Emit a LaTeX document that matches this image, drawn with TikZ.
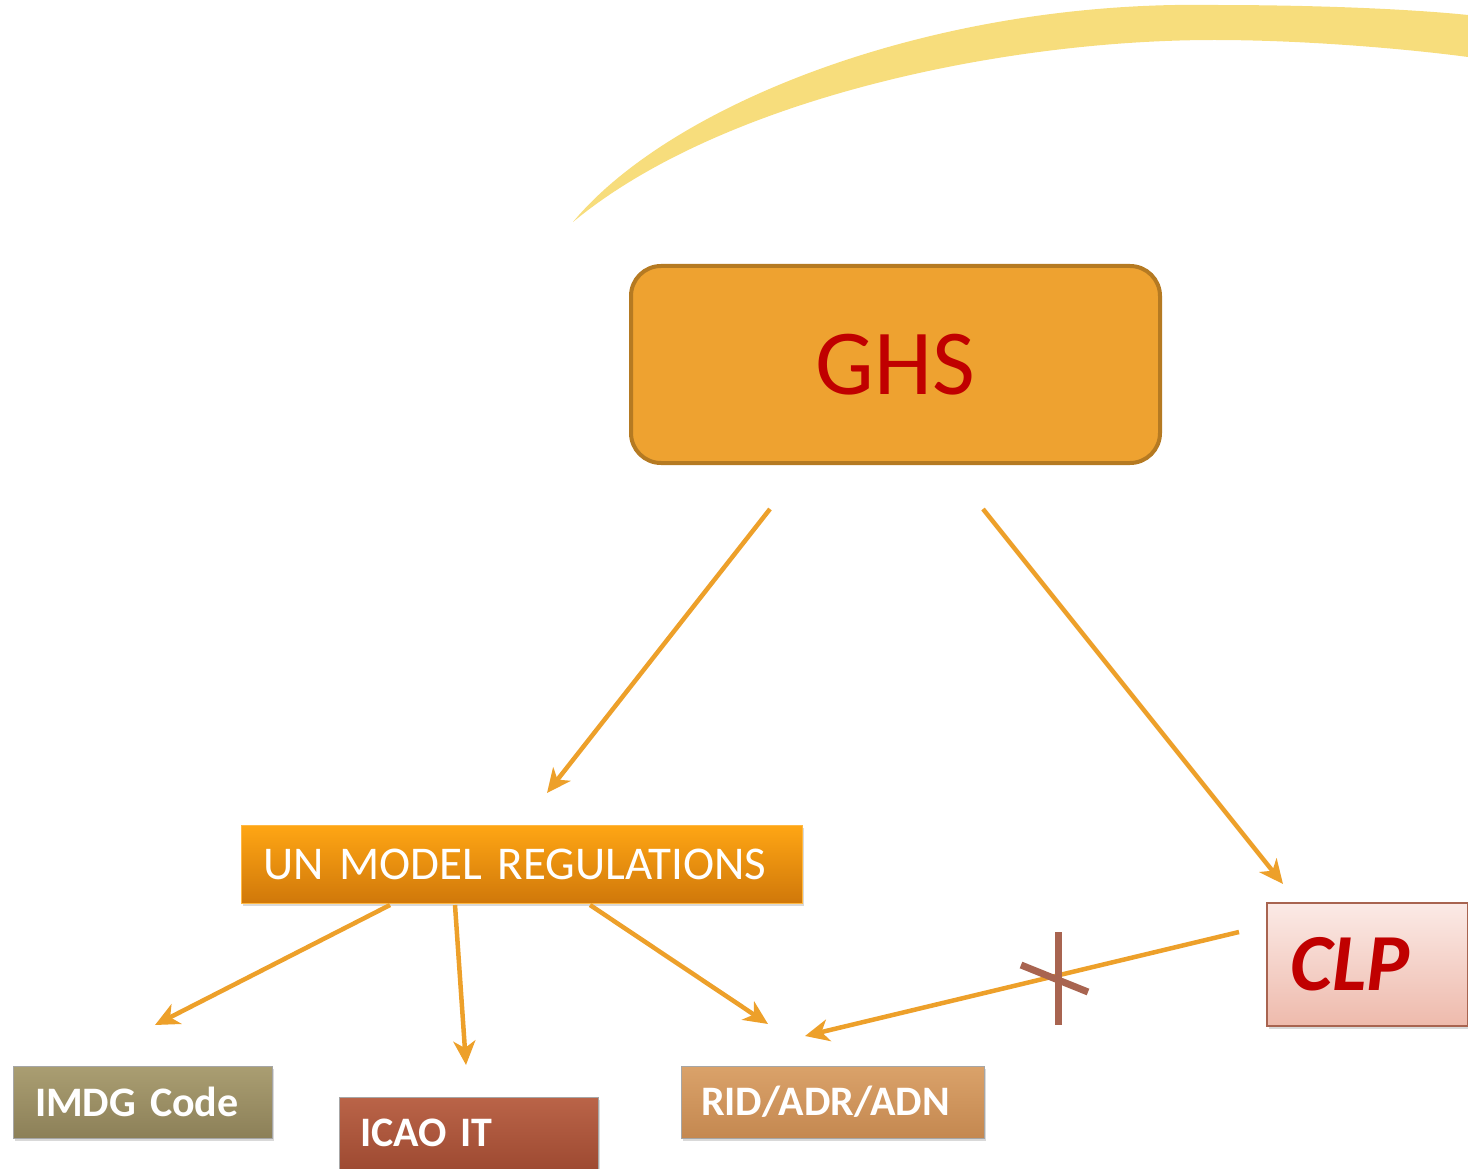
\documentclass[tikz,border=0pt]{standalone}
\usepackage{fontspec}
\setmainfont{Carlito}
\usetikzlibrary{arrows.meta,shadows}
\definecolor{arrowc}{RGB}{237,160,42}
\definecolor{ghsfill}{RGB}{238,162,48}
\definecolor{ghsdraw}{RGB}{181,122,34}
\definecolor{ghstext}{RGB}{192,0,0}
\definecolor{crescent}{RGB}{247,221,124}
\definecolor{crossc}{RGB}{168,100,80}
\definecolor{untop}{RGB}{255,166,20}
\definecolor{unbot}{RGB}{208,120,10}
\definecolor{imdgtop}{RGB}{170,158,114}
\definecolor{imdgbot}{RGB}{140,128,88}
\definecolor{icaotop}{RGB}{186,100,72}
\definecolor{icaobot}{RGB}{158,74,50}
\definecolor{ridtop}{RGB}{218,162,106}
\definecolor{ridbot}{RGB}{196,136,80}
\definecolor{clptop}{RGB}{251,234,230}
\definecolor{clpbot}{RGB}{238,186,172}
\tikzset{
  conn/.style={draw=arrowc, line width=4.5pt, -{Stealth[length=24pt,width=22pt,inset=7pt]}},
  flatbox/.style={rectangle, inner ysep=0pt, align=left, text=white,
    drop shadow={shadow xshift=2pt, shadow yshift=-3pt, opacity=0.3}},
  bevelbox/.style={flatbox, draw=black!35, line width=1pt, font=\bfseries\fontsize{42}{48}\selectfont},
  crossline/.style={draw=crossc, line width=7pt}
}
\begin{document}
\begin{tikzpicture}[x=1pt,y=-1pt]
\useasboundingbox (0,0) rectangle (1468,1169);
% crescent
\fill[crescent] (573,222) .. controls (670,105) and (930,0) .. (1214,5)
  .. controls (1330,5) and (1420,10) .. (1468,15)
  -- (1468,57) .. controls (1400,48) and (1300,40) .. (1214,40)
  .. controls (1000,40) and (720,100) .. (573,222) -- cycle;
% GHS
\node[draw=ghsdraw, fill=ghsfill, line width=4pt, rounded corners=30pt,
  minimum width=529pt, minimum height=197pt, text=ghstext,
  font=\fontsize{93}{100}\selectfont] (ghs) at (895.5,364.5) {GHS};
% UN model regulations
\node[flatbox, top color=untop, bottom color=unbot, draw=untop!80!white, line width=1pt,
  inner xsep=22pt, text width=517pt, minimum height=78pt,
  font=\fontsize{47}{54}\selectfont] (un) at (521.5,864) {UN MODEL REGULATIONS};
% lower boxes
\node[bevelbox, top color=imdgtop, bottom color=imdgbot, inner xsep=22pt,
  text width=215pt, minimum height=72pt] (imdg) at (142.5,1102) {IMDG Code};
\node[bevelbox, top color=icaotop, bottom color=icaobot, inner xsep=21pt,
  text width=217pt, minimum height=72pt] (icao) at (468.5,1133) {ICAO IT};
\node[bevelbox, top color=ridtop, bottom color=ridbot, inner xsep=20pt,
  text width=263pt, minimum height=72pt] (rid) at (832.5,1102) {RID/ADR/ADN};
% CLP
\node[flatbox, top color=clptop, bottom color=clpbot, draw=crossc, line width=2.5pt,
  inner xsep=23pt, text width=155pt, minimum height=123pt, text=ghstext,
  font=\bfseries\itshape\fontsize{81}{88}\selectfont] (clp) at (1367.5,964.5) {CLP};
% connector end points
\coordinate (g1) at (770,509);
\coordinate (u1) at (547,793);
\coordinate (g2) at (983,509);
\coordinate (c1) at (1283,884);
\coordinate (u2) at (390,905);
\coordinate (i1) at (155,1025);
\coordinate (u3) at (455,905);
\coordinate (a1) at (466,1065);
\coordinate (u4) at (590,905);
\coordinate (r1) at (768,1024);
\coordinate (c2) at (1239,932);
\coordinate (r2) at (805,1036);
\draw[conn] (g1) -- (u1);
\draw[conn] (g2) -- (c1);
\draw[conn] (u2) -- (i1);
\draw[conn] (u3) -- (a1);
\draw[conn] (u4) -- (r1);
\draw[conn] (c2) -- (r2);
% cross mark
\coordinate (x1) at (1058,932);
\coordinate (x2) at (1058,1025);
\coordinate (x3) at (1021,965);
\coordinate (x4) at (1088,992);
\draw[crossline] (x1) -- (x2);
\draw[crossline] (x3) -- (x4);
\end{tikzpicture}
\end{document}
